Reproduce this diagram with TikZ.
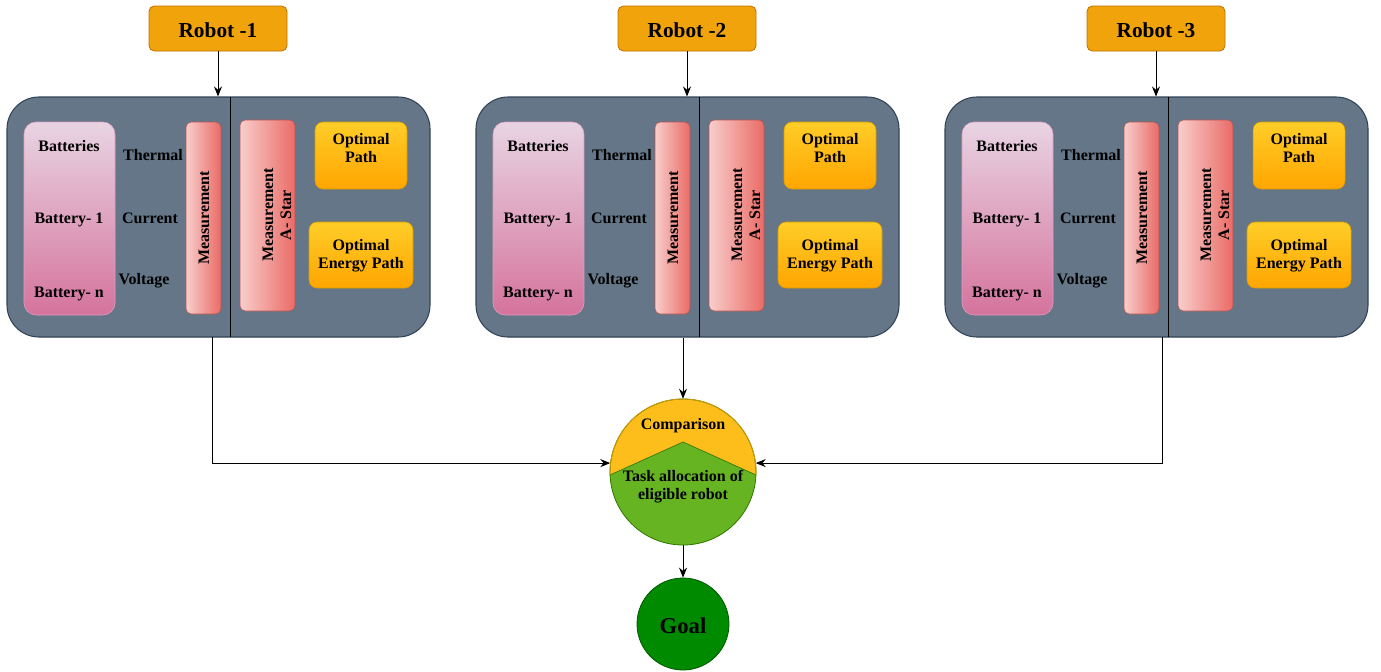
\documentclass[tikz,border=0pt]{standalone}
\usepackage{fontspec}
\setmainfont{Liberation Serif}
\usetikzlibrary{arrows.meta,fit}
\definecolor{robotfill}{HTML}{F0A30A}
\definecolor{robotdraw}{HTML}{BD7000}
\definecolor{panelfill}{HTML}{647687}
\definecolor{paneldraw}{HTML}{314354}
\definecolor{battop}{HTML}{E8D4E2}
\definecolor{batbot}{HTML}{D5739D}
\definecolor{batdraw}{HTML}{DDA0C0}
\definecolor{measl}{HTML}{F8CECC}
\definecolor{measr}{HTML}{EA6B66}
\definecolor{measdraw}{HTML}{B85450}
\definecolor{opttop}{HTML}{FFCD28}
\definecolor{optbot}{HTML}{FFA500}
\definecolor{optdraw}{HTML}{D79B00}
\definecolor{cmporange}{HTML}{FDBE1C}
\definecolor{cmpgreen}{HTML}{66B421}
\definecolor{cmpdraw}{HTML}{2D7600}
\definecolor{goalfill}{HTML}{008A00}
\definecolor{goaldraw}{HTML}{005700}
\tikzset{
  robotbox/.style={draw=robotdraw, fill=robotfill, rounded corners=4pt, inner sep=0pt, line width=0.6pt},
  panelbox/.style={draw=paneldraw, fill=panelfill, rounded corners=24pt, inner sep=0pt, line width=0.8pt},
  batbox/.style={draw=batdraw, top color=battop, bottom color=batbot, rounded corners=9pt, inner sep=0pt},
  measbox/.style={draw=measdraw, left color=measl, right color=measr, rounded corners=4pt, inner sep=0pt},
  optbox/.style={draw=optdraw, top color=opttop, bottom color=optbot, rounded corners=6pt, inner sep=0pt},
  lbl/.style={inner sep=0pt, align=center},
  arr/.style={draw=black, line width=0.6pt, -{Stealth[length=7.5pt,width=6pt,inset=2.5pt]}},
  plain/.style={draw=black, line width=0.6pt},
}
\begin{document}
\begin{tikzpicture}[x=0.75pt, y=-0.75pt, font=\bfseries\fontsize{12}{13.5}\selectfont]
\useasboundingbox (0,0) rectangle (1381,671);

\foreach \i/\dx in {1/0, 2/469, 3/938}{
\begin{scope}[xshift={\dx*0.75pt}]
  \node[robotbox, fit={(149,6)(287,51)}] (rob\i) {};
  \node[lbl, font=\bfseries\fontsize{16}{18}\selectfont] (robt\i) at (218,30) {Robot -\i};
  \node[panelbox, fit={(7,97)(430,337)}] (pan\i) {};
  \coordinate (divt\i) at (230,97);
  \coordinate (divb\i) at (230,337);
  \draw[plain] (divt\i) -- (divb\i);
  \draw[arr] (rob\i.south) -- (rob\i.south |- pan\i.north);
  \node[batbox, fit={(24,122)(115,315)}] (bat\i) {};
  \node[lbl] (bt\i) at (69,146) {Batteries};
  \node[lbl] (b1\i) at (69,220) {Battery- 1};
  \node[lbl] (bn\i) at (69,294) {Battery- n};
  \node[lbl] (th\i) at (153,155) {Thermal};
  \node[lbl] (cu\i) at (150,218) {Current};
  \node[lbl] (vo\i) at (144,281) {Voltage};
  \node[measbox, fit={(186,122)(221,314)}] (mea\i) {};
  \node[lbl, rotate=90] (meat\i) at (204,218) {Measurement};
  \node[measbox, fit={(240,120)(295,311)}] (ast\i) {};
  \node[lbl, rotate=90] (astt\i) at (277,215) {Measurement\\A- Star};
  \node[optbox, fit={(315,122)(407,189)}] (op\i) {};
  \node[lbl] (opt\i) at (361,148) {Optimal\\Path};
  \node[optbox, fit={(309,222)(413,288)}] (oe\i) {};
  \node[lbl] (oet\i) at (361,256) {Optimal\\Energy Path};
\end{scope}
}

% comparison circle
\node[circle, minimum size=109.5pt, inner sep=0pt] (cmp) at (683,472) {};
\fill[cmpgreen] (cmp.center) circle[radius=54.75pt];
\begin{scope}
  \clip (cmp.center) circle[radius=54.75pt];
  \fill[cmporange] (600,390) -- (766,390) -- (766,479.5) -- (683,442) -- (600,479.5) -- cycle;
  \draw[cmpdraw, line width=0.5pt] (600,479.5) -- (683,442) -- (766,479.5);
\end{scope}
\draw[cmpdraw, line width=0.6pt] (cmp.center) circle[radius=54.75pt];
\begin{scope}
  \clip (600,390) -- (766,390) -- (766,479.5) -- (683,442) -- (600,479.5) -- cycle;
  \draw[optdraw, line width=0.6pt] (cmp.center) circle[radius=54.75pt];
\end{scope}
\node[lbl] (cmpt) at (683,426) {Comparison};
\node[lbl] (task) at (683,487) {Task allocation of\\eligible robot};

% goal
\node[circle, draw=goaldraw, fill=goalfill, minimum size=69pt, inner sep=0pt, line width=0.6pt] (goal) at (683,624) {};
\node[lbl, font=\bfseries\fontsize{17}{20}\selectfont] (goalt) at (683,626) {Goal};

% connectors
\coordinate (o1) at (212,337);
\coordinate (o3) at (1162,337);
\draw[arr] (o1) |- (cmp.173);
\draw[arr] (o3) |- (cmp.7);
\draw[arr] (pan2.south -| cmp.north) -- (cmp.north);
\draw[arr] (cmp.south) -- (goal.north);
\end{tikzpicture}
\end{document}
